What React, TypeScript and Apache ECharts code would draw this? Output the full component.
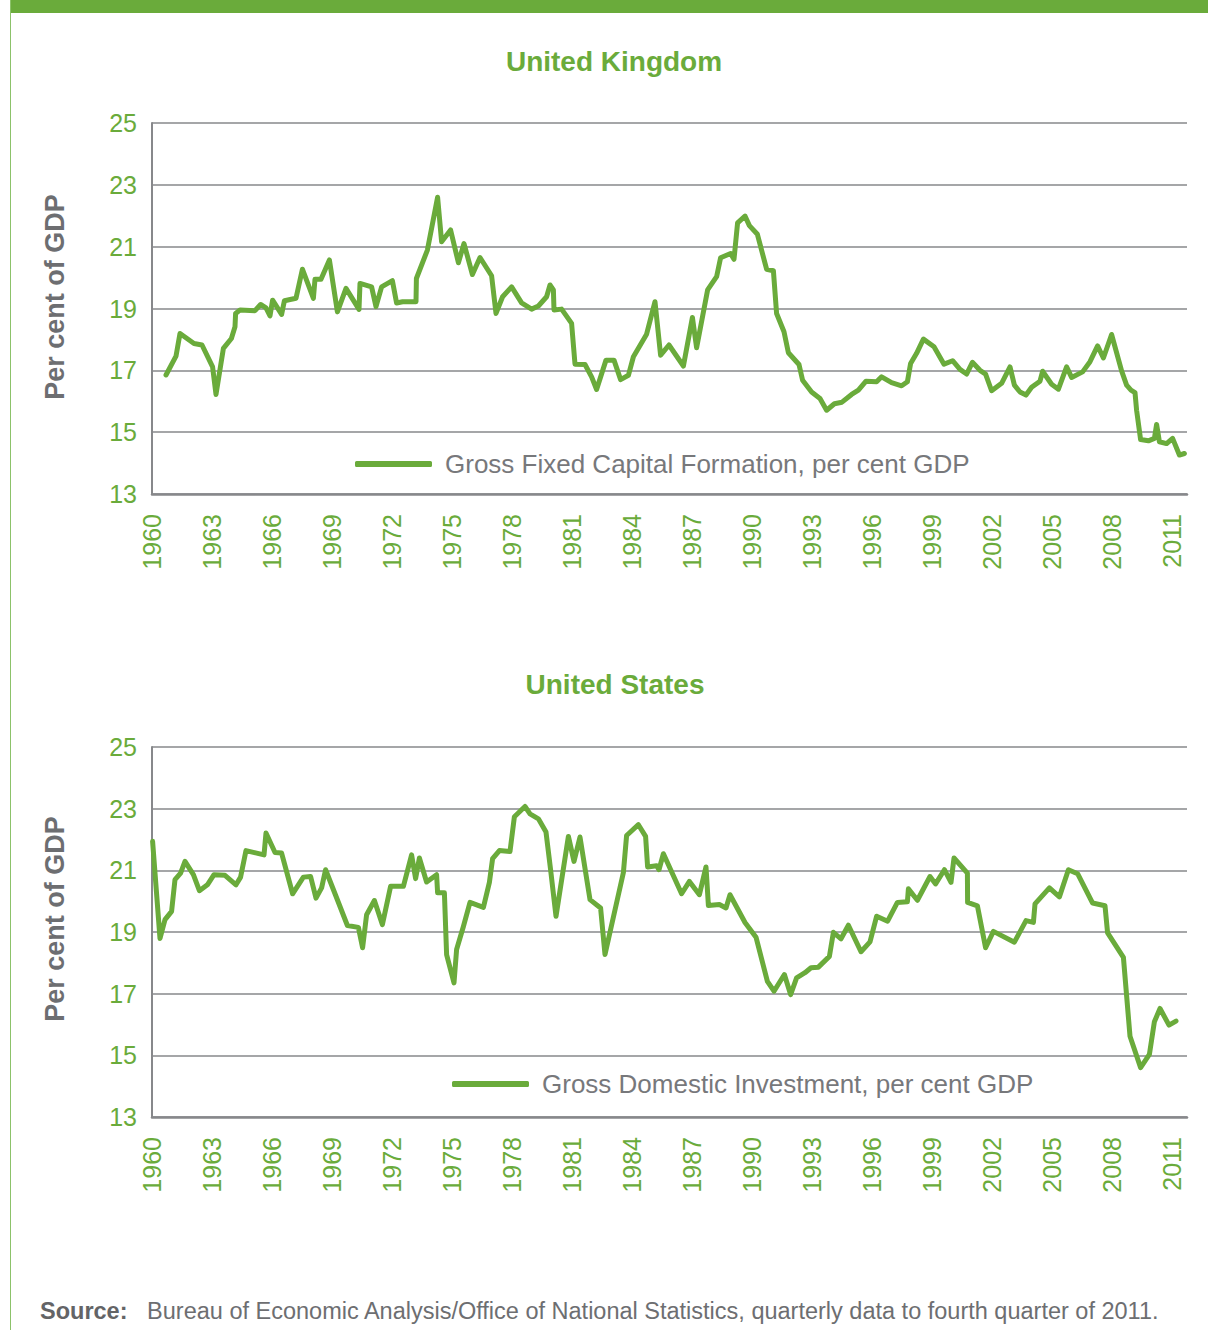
import React, { useEffect, useRef } from 'react';
import * as echarts from 'echarts';

const FONT = '"Liberation Sans", Arial, Helvetica, sans-serif';
const GREEN = '#6aab3b';
const TEXT_GRAY = '#6d6e71';
const LEGEND_GRAY = '#77787b';
const GRID_GRAY = '#87888b';

const FIRST_YEAR = 1960;
const LAST_YEAR = 2011.75;
const X_STEP = 3;
const Y_MIN = 13;
const Y_MAX = 25;
const Y_STEP = 2;

const UK_TITLE = 'United Kingdom';
const US_TITLE = 'United States';
const UK_SERIES = 'Gross Fixed Capital Formation, per cent GDP';
const US_SERIES = 'Gross Domestic Investment, per cent GDP';
const Y_NAME = 'Per cent of GDP';

const ukYears = [
  1960.7, 1961.2, 1961.4, 1962.1, 1962.5, 1963.03, 1963.2, 1963.57, 1963.97, 1964.15,
  1964.18, 1964.4, 1965.15, 1965.43, 1965.7, 1965.9, 1966.03, 1966.48, 1966.62, 1967.2,
  1967.52, 1968.07, 1968.15, 1968.45, 1968.87, 1969.27, 1969.7, 1970.35, 1970.4, 1970.98,
  1971.2, 1971.48, 1972.02, 1972.23, 1972.53, 1973.2, 1973.22, 1973.77, 1974.28, 1974.48,
  1974.93, 1975.32, 1975.6, 1976.02, 1976.4, 1976.98, 1977.2, 1977.53, 1977.98, 1978.48,
  1978.98, 1979.32, 1979.73, 1979.9, 1980.07, 1980.1, 1980.48, 1980.98, 1981.15, 1981.65,
  1981.98, 1982.23, 1982.7, 1983.1, 1983.43, 1983.82, 1984.07, 1984.73, 1985.15, 1985.43,
  1985.85, 1986.57, 1987.02, 1987.23, 1987.78, 1988.23, 1988.43, 1988.93, 1989.1, 1989.28,
  1989.65, 1989.87, 1990.27, 1990.73, 1991.07, 1991.23, 1991.6, 1991.82, 1992.35, 1992.53,
  1992.98, 1993.4, 1993.73, 1994.12, 1994.5, 1994.98, 1995.32, 1995.7, 1996.23, 1996.48,
  1996.98, 1997.48, 1997.77, 1997.93, 1998.23, 1998.57, 1999.1, 1999.6, 2000.03, 2000.4,
  2000.73, 2001.02, 2001.4, 2001.68, 2001.98, 2002.48, 2002.9, 2003.12, 2003.4, 2003.7,
  2003.98, 2004.4, 2004.53, 2004.98, 2005.32, 2005.73, 2005.98, 2006.53, 2006.9, 2007.28,
  2007.57, 2007.98, 2008.48, 2008.73, 2008.95, 2009.15, 2009.23, 2009.43, 2009.82, 2010.12,
  2010.23, 2010.37, 2010.73, 2011.03, 2011.37, 2011.62,
];
const ukValues = [
  16.85, 17.46, 18.19, 17.87, 17.82, 17.11, 16.22, 17.71, 18.03, 18.41,
  18.84, 18.95, 18.93, 19.13, 19.02, 18.76, 19.27, 18.81, 19.25, 19.33,
  20.27, 19.33, 19.95, 19.95, 20.57, 18.89, 19.65, 18.97, 19.81, 19.7,
  19.06, 19.7, 19.9, 19.18, 19.22, 19.22, 19.97, 20.89, 22.6, 21.16,
  21.54, 20.48, 21.1, 20.1, 20.65, 20.06, 18.84, 19.38, 19.7, 19.18,
  18.98, 19.08, 19.38, 19.76, 19.6, 18.95, 18.98, 18.52, 17.2, 17.19,
  16.79, 16.38, 17.33, 17.33, 16.7, 16.84, 17.44, 18.17, 19.22, 17.49,
  17.82, 17.14, 18.71, 17.73, 19.6, 20.03, 20.64, 20.78, 20.59, 21.77,
  21.99, 21.68, 21.4, 20.27, 20.22, 18.84, 18.25, 17.57, 17.19, 16.68,
  16.3, 16.09, 15.71, 15.92, 15.97, 16.22, 16.36, 16.65, 16.63, 16.79,
  16.6, 16.5, 16.63, 17.22, 17.55, 18.01, 17.76, 17.2, 17.31, 17.03,
  16.88, 17.26, 17.0, 16.88, 16.34, 16.58, 17.11, 16.52, 16.3, 16.2,
  16.45, 16.65, 16.97, 16.55, 16.39, 17.11, 16.77, 16.95, 17.28, 17.79,
  17.4, 18.16, 16.98, 16.52, 16.36, 16.28, 15.71, 14.76, 14.72, 14.8,
  15.25, 14.69, 14.63, 14.8, 14.26, 14.31,
];

const usYears = [
  1960.03, 1960.4, 1960.65, 1960.98, 1961.15, 1961.43, 1961.65, 1962.07, 1962.37, 1962.77,
  1963.1, 1963.65, 1964.2, 1964.43, 1964.7, 1965.6, 1965.7, 1966.15, 1966.48, 1967.03,
  1967.57, 1967.93, 1968.2, 1968.48, 1968.68, 1969.2, 1969.77, 1970.32, 1970.53, 1970.73,
  1971.12, 1971.52, 1971.93, 1972.57, 1972.98, 1973.18, 1973.37, 1973.73, 1974.23, 1974.28,
  1974.62, 1974.73, 1975.1, 1975.23, 1975.57, 1975.9, 1976.57, 1976.87, 1977.03, 1977.37,
  1977.9, 1978.12, 1978.65, 1978.9, 1979.32, 1979.7, 1979.93, 1980.2, 1980.82, 1981.1,
  1981.4, 1981.9, 1982.43, 1982.65, 1983.57, 1983.73, 1984.32, 1984.68, 1984.78, 1985.23,
  1985.35, 1985.57, 1986.48, 1986.87, 1987.37, 1987.7, 1987.82, 1988.37, 1988.7, 1988.9,
  1989.65, 1990.2, 1990.77, 1991.1, 1991.62, 1991.93, 1992.23, 1992.65, 1992.95, 1993.32,
  1993.87, 1994.07, 1994.45, 1994.82, 1995.45, 1995.9, 1996.23, 1996.78, 1997.27, 1997.77,
  1997.82, 1998.27, 1998.9, 1999.18, 1999.62, 1999.95, 2000.1, 2000.77, 2000.78, 2001.27,
  2001.68, 2002.07, 2003.12, 2003.7, 2004.07, 2004.15, 2004.87, 2005.37, 2005.82, 2006.28,
  2007.03, 2007.65, 2007.78, 2008.57, 2008.9, 2009.43, 2009.87, 2010.12, 2010.4, 2010.85,
  2011.2,
];
const usValues = [
  21.94, 18.79, 19.4, 19.67, 20.7, 20.91, 21.29, 20.86, 20.34, 20.53,
  20.86, 20.84, 20.53, 20.78, 21.64, 21.5, 22.21, 21.58, 21.56, 20.24,
  20.78, 20.8, 20.1, 20.43, 21.02, 20.16, 19.21, 19.15, 18.49, 19.56,
  20.02, 19.24, 20.48, 20.48, 21.5, 20.73, 21.4, 20.62, 20.86, 20.27,
  20.27, 18.27, 17.35, 18.43, 19.18, 19.96, 19.8, 20.61, 21.38, 21.64,
  21.61, 22.74, 23.07, 22.83, 22.67, 22.24, 21.02, 19.51, 22.1, 21.29,
  22.08, 20.05, 19.78, 18.27, 20.93, 22.13, 22.48, 22.1, 21.11, 21.15,
  21.02, 21.54, 20.24, 20.64, 20.21, 21.11, 19.86, 19.89, 19.78, 20.21,
  19.31, 18.83, 17.4, 17.08, 17.62, 16.97, 17.51, 17.68, 17.84, 17.86,
  18.21, 18.99, 18.78, 19.22, 18.36, 18.68, 19.51, 19.35, 19.96, 19.98,
  20.4, 20.03, 20.8, 20.56, 21.02, 20.61, 21.4, 20.91, 19.96, 19.85,
  18.49, 19.02, 18.67, 19.37, 19.31, 19.91, 20.43, 20.14, 21.02, 20.89,
  19.94, 19.85, 18.97, 18.18, 15.62, 14.6, 15.03, 16.09, 16.52, 15.98,
  16.11,
];

const toPoints = (years: number[], values: number[]) =>
  years.map((yr, i) => [yr - FIRST_YEAR, values[i] - Y_MIN]);

const makeX = (gridIndex: number) => ({
  type: 'value',
  gridIndex,
  min: 0,
  max: LAST_YEAR - FIRST_YEAR,
  interval: X_STEP,
  axisLine: { show: true, onZero: false, lineStyle: { color: GRID_GRAY, width: 2.5 } },
  axisTick: { show: false },
  splitLine: { show: false },
  axisLabel: {
    rotate: 90,
    margin: 20,
    color: GREEN,
    fontSize: 25,
    fontFamily: FONT,
    showMaxLabel: false,
    formatter: (v: number) =>
      Number.isInteger(v) && v % X_STEP === 0 ? String(FIRST_YEAR + v) : '',
  },
});

const makeY = (gridIndex: number) => ({
  type: 'value',
  gridIndex,
  min: 0,
  max: Y_MAX - Y_MIN,
  interval: Y_STEP,
  axisLine: { show: true, onZero: false, lineStyle: { color: GRID_GRAY, width: 2 } },
  axisTick: { show: false },
  splitLine: { show: true, lineStyle: { color: GRID_GRAY, width: 1.5 } },
  axisLabel: {
    margin: 15,
    color: GREEN,
    fontSize: 25,
    fontFamily: FONT,
    formatter: (v: number) => String(v + Y_MIN),
  },
});

const makeLegend = (name: string, left: number, top: number) => ({
  data: [name],
  left,
  top,
  orient: 'horizontal',
  selectedMode: false,
  icon: 'roundRect',
  itemWidth: 77,
  itemHeight: 6,
  itemStyle: { color: GREEN },
  textStyle: { color: LEGEND_GRAY, fontSize: 26, fontFamily: FONT, padding: [0, 0, 0, 8] },
});

const lineSeries = (name: string, idx: number, years: number[], values: number[]) => ({
  type: 'line',
  name,
  xAxisIndex: idx,
  yAxisIndex: idx,
  data: toPoints(years, values),
  showSymbol: false,
  symbol: 'none',
  itemStyle: { color: GREEN },
  lineStyle: { color: GREEN, width: 5, cap: 'round', join: 'round' },
});

export default function App() {
  const ref = useRef<HTMLDivElement>(null);

  useEffect(() => {
    document.body.style.margin = '0';
    if (!ref.current) return;
    const chart = echarts.init(ref.current, undefined, { renderer: 'svg' });
    chart.setOption({
      animation: false,
      backgroundColor: '#ffffff',
      grid: [
        { left: 152, top: 123, width: 1035, height: 371 },
        { left: 152, top: 747, width: 1035, height: 370 },
      ],
      xAxis: [makeX(0), makeX(1)],
      yAxis: [makeY(0), makeY(1)],
      legend: [makeLegend(UK_SERIES, 350, 446), makeLegend(US_SERIES, 447, 1066)],
      series: [
        lineSeries(UK_SERIES, 0, ukYears, ukValues),
        lineSeries(US_SERIES, 1, usYears, usValues),
      ],
      graphic: [
        { type: 'rect', shape: { x: 10, y: 0, width: 1198, height: 13 }, style: { fill: GREEN }, silent: true },
        { type: 'line', shape: { x1: 10.5, y1: 0, x2: 10.5, y2: 1330 }, style: { stroke: '#8cc26a', lineWidth: 1 }, silent: true },
        {
          type: 'text', x: 614, y: 61,
          style: { text: UK_TITLE, fill: GREEN, fontSize: 28, fontWeight: 'bold', fontFamily: FONT, align: 'center', verticalAlign: 'middle' },
        },
        {
          type: 'text', x: 615, y: 684,
          style: { text: US_TITLE, fill: GREEN, fontSize: 28, fontWeight: 'bold', fontFamily: FONT, align: 'center', verticalAlign: 'middle' },
        },
        {
          type: 'text', x: 55, y: 297, rotation: Math.PI / 2,
          style: { text: Y_NAME, fill: TEXT_GRAY, fontSize: 27, fontWeight: 'bold', fontFamily: FONT, align: 'center', verticalAlign: 'middle' },
        },
        {
          type: 'text', x: 55, y: 919, rotation: Math.PI / 2,
          style: { text: Y_NAME, fill: TEXT_GRAY, fontSize: 27, fontWeight: 'bold', fontFamily: FONT, align: 'center', verticalAlign: 'middle' },
        },
        {
          type: 'text', x: 40, y: 1311,
          style: {
            text: '{b|Source:}   Bureau of Economic Analysis/Office of National Statistics, quarterly data to fourth quarter of 2011.',
            fill: TEXT_GRAY, fontSize: 23.5, fontFamily: FONT, align: 'left', verticalAlign: 'middle',
            rich: { b: { fontWeight: 'bold', fill: '#636466', fontSize: 23.5, fontFamily: FONT } },
          },
        },
      ],
    });
    return () => chart.dispose();
  }, []);

  return <div ref={ref} style={{ width: 1208, height: 1330 }} />;
}
